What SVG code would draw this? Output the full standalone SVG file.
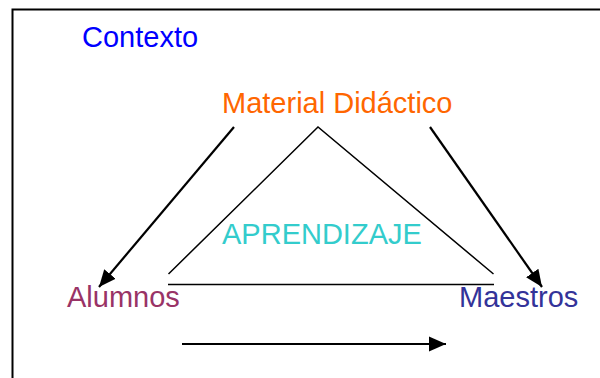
<svg xmlns="http://www.w3.org/2000/svg" width="600" height="378" viewBox="0 0 600 378">
<defs>
<style>
text{font-family:"Liberation Sans",Arial,sans-serif;font-size:29px}
.tri{stroke:#000;stroke-width:1.5;fill:none}
.arr{stroke:#000;stroke-width:2.2;fill:none}
</style>
<marker id="ah" markerUnits="userSpaceOnUse" markerWidth="18" markerHeight="18" viewBox="0 0 18 18" refX="17" refY="9" orient="auto">
<path d="M0,1.5 L17,9 L0,16.5 Z" fill="#000"/>
</marker>
</defs>
<rect x="0" y="0" width="600" height="378" fill="#fff"/>
<rect id="frame" x="12.5" y="9.5" width="600" height="400" fill="none" stroke="#000" stroke-width="2"/>
<g id="contexto"><text x="82" y="47" fill="#0000FF">Contexto</text></g>
<g id="material"><text x="222" y="113" fill="#FF6600">Material Didáctico</text></g>
<g id="aprendizaje"><text x="222" y="244" fill="#33CCCC">APRENDIZAJE</text></g>
<g id="alumnos"><text x="67" y="307" fill="#993366">Alumnos</text></g>
<g id="maestros"><text x="459" y="307" fill="#333399">Maestros</text></g>
<g id="connectors">
<polyline class="tri" points="168.5,274 318,127 493.5,274"/>
<line class="tri" x1="168" y1="284.5" x2="494" y2="284.5"/>
<line class="arr" x1="234" y1="127" x2="99" y2="287" marker-end="url(#ah)"/>
<line class="arr" x1="430" y1="127" x2="542" y2="287" marker-end="url(#ah)"/>
<line class="arr" x1="182" y1="344" x2="446" y2="344" marker-end="url(#ah)"/>
</g>
</svg>
